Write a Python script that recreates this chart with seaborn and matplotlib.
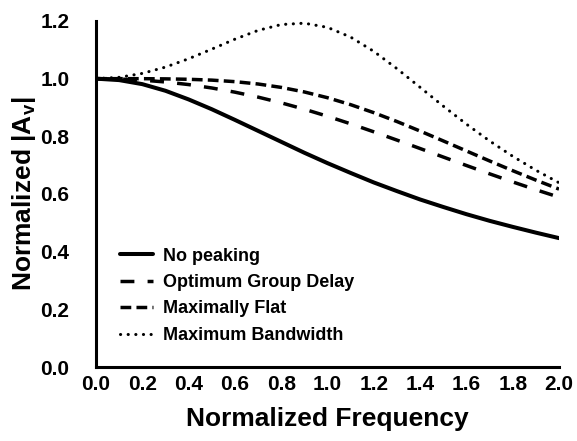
import numpy as np
import pandas as pd
import matplotlib
matplotlib.use("Agg")
import matplotlib.pyplot as plt
import seaborn as sns

freq = [0.0, 0.1, 0.2, 0.3, 0.4, 0.5, 0.6, 0.7, 0.8, 0.9, 1.0,
        1.1, 1.2, 1.3, 1.4, 1.5, 1.6, 1.7, 1.8, 1.9, 2.0]
no_peaking = [1.000, 0.995, 0.981, 0.958, 0.928, 0.894, 0.857, 0.819, 0.781, 0.743, 0.707,
              0.673, 0.640, 0.610, 0.581, 0.555, 0.530, 0.507, 0.486, 0.466, 0.447]
opt_group_delay = [1.000, 0.9987, 0.9949, 0.9885, 0.9795, 0.9677, 0.9532, 0.9360, 0.9162, 0.8940, 0.8696,
                   0.8433, 0.8156, 0.7869, 0.7577, 0.7282, 0.6989, 0.6700, 0.6419, 0.6148, 0.589]
max_flat = [1.000, 1.000, 0.9999, 0.9993, 0.9978, 0.9949, 0.9896, 0.9815, 0.9697, 0.9539, 0.9339,
            0.9098, 0.8820, 0.8513, 0.8183, 0.7841, 0.7493, 0.7147, 0.6809, 0.6482, 0.617]
max_bandwidth = [1.000, 1.0046, 1.0182, 1.0401, 1.0690, 1.1024, 1.1369, 1.1673, 1.1877, 1.1924, 1.1779,
                 1.1441, 1.0946, 1.0346, 0.9699, 0.9048, 0.8423, 0.7841, 0.7308, 0.6825, 0.639]
series_names = ["No peaking", "Optimum Group Delay", "Maximally Flat", "Maximum Bandwidth"]
x_ticks = [0.0, 0.2, 0.4, 0.6, 0.8, 1.0, 1.2, 1.4, 1.6, 1.8, 2.0]
y_ticks = [0.0, 0.2, 0.4, 0.6, 0.8, 1.0, 1.2]

sns.set_style("white")
plt.rcParams["font.family"] = ["Liberation Sans", "DejaVu Sans"]
plt.rcParams["font.weight"] = "bold"
plt.rcParams["text.color"] = "black"
plt.rcParams["axes.labelcolor"] = "black"
plt.rcParams["xtick.color"] = "black"
plt.rcParams["ytick.color"] = "black"
plt.rcParams["mathtext.fontset"] = "custom"
plt.rcParams["mathtext.rm"] = "Liberation Sans:bold"
plt.rcParams["mathtext.bf"] = "Liberation Sans:bold"
plt.rcParams["mathtext.it"] = "Liberation Sans:bold"

frames = []
for name, vals in zip(series_names, [no_peaking, opt_group_delay, max_flat, max_bandwidth]):
    frames.append(pd.DataFrame({"freq": freq, "gain": vals, "series": name}))
df = pd.concat(frames, ignore_index=True)

fig = plt.figure(figsize=(5.77, 4.41), dpi=100)
ax = fig.add_axes([0.1664, 0.1678, 0.9688 - 0.1664, 0.9524 - 0.1678])

styles = {
    "No peaking": dict(lw=2.9, dashes=None),
    "Optimum Group Delay": dict(lw=2.5, dashes=(4.0, 3.8)),
    "Maximally Flat": dict(lw=2.5, dashes=(3.1, 1.5)),
    "Maximum Bandwidth": dict(lw=2.2, dashes=(0.05, 2.45)),
}
for name in series_names:
    sub = df[df["series"] == name]
    st = styles[name]
    sns.lineplot(data=sub, x="freq", y="gain", ax=ax, color="black", lw=st["lw"], label=name)
    line = ax.lines[-1]
    if st["dashes"] is not None:
        line.set_dashes(st["dashes"])
    if name == "Maximum Bandwidth":
        line.set_dash_capstyle("round")

ax.set_xlim(0, 2.0)
ax.set_ylim(0, 1.2)
ax.set_xticks(x_ticks)
ax.set_yticks(y_ticks)
ax.set_xticklabels([f"{t:.1f}" for t in x_ticks], fontsize=15, fontweight="bold", color="black")
ax.set_yticklabels([f"{t:.1f}" for t in y_ticks], fontsize=15, fontweight="bold", color="black")
ax.tick_params(axis="both", direction="in", length=4, width=2.2, color="black", labelcolor="black")
ax.tick_params(axis="y", pad=19)
ax.tick_params(axis="x", pad=6)
for s in ["top", "right"]:
    ax.spines[s].set_visible(False)
for s in ["left", "bottom"]:
    ax.spines[s].set_linewidth(2.2)
    ax.spines[s].set_color("black")

ax.set_xlabel("Normalized Frequency", fontsize=19, fontweight="bold", labelpad=9, color="black")
ax.set_ylabel(r"Normalized |$\mathbf{A_v}$|", fontsize=19, fontweight="bold", labelpad=2, color="black")

leg = ax.legend(loc="lower left", bbox_to_anchor=(0.017, 0.02), frameon=False,
                prop={"size": 13, "weight": "bold"}, handlelength=1.83,
                handletextpad=0.55, labelspacing=0.52, labelcolor="black")

fig.savefig("out.png", dpi=100)
